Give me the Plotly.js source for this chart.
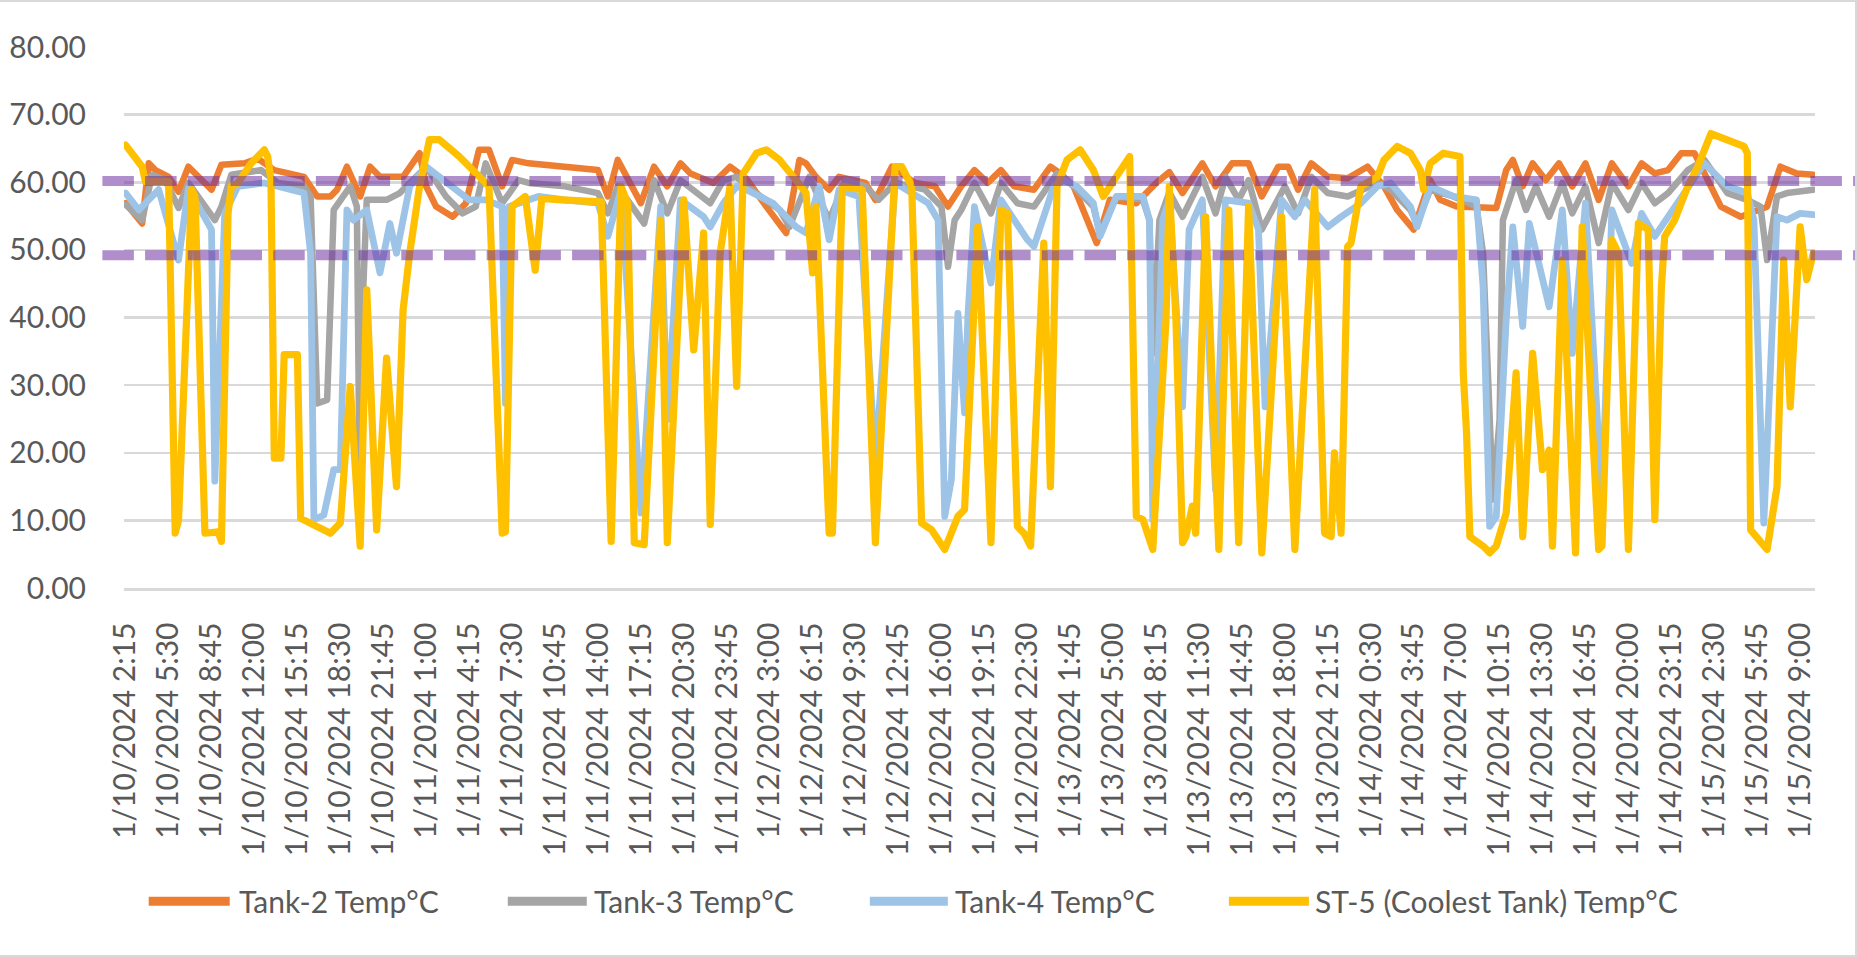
<!DOCTYPE html>
<html><head><meta charset="utf-8">
<script src="https://cdn.plot.ly/plotly-3.0.1.min.js"></script>
<style>
html,body{margin:0;padding:0;background:#fff;}
#wrap{position:relative;width:1857px;height:957px;overflow:hidden;}
#chart{position:absolute;left:0;top:0;width:1857px;height:957px;}
#frame{position:absolute;left:0;top:0;width:1857px;height:957px;box-sizing:border-box;border-top:2px solid #d9d9d9;border-right:2px solid #d9d9d9;border-bottom:2px solid #d9d9d9;pointer-events:none;}
.scatterlayer .js-line{stroke-linejoin:round;stroke-linecap:round;}
</style></head><body>
<div id="wrap"><div id="chart"></div><div id="frame"></div></div>
<script>
// x = 15-minute step since 1/10/2024 2:15 ; y = temperature °C
const seriesNames = ["Tank-2 Temp°C", "Tank-3 Temp°C", "Tank-4 Temp°C", "ST-5 (Coolest Tank) Temp°C"];
const seriesColors = ["#ED7D31", "#A5A5A5", "#9DC3E6", "#FFC000"];

const tickLabels = ["1/10/2024 2:15","1/10/2024 5:30","1/10/2024 8:45","1/10/2024 12:00","1/10/2024 15:15","1/10/2024 18:30","1/10/2024 21:45","1/11/2024 1:00","1/11/2024 4:15","1/11/2024 7:30","1/11/2024 10:45","1/11/2024 14:00","1/11/2024 17:15","1/11/2024 20:30","1/11/2024 23:45","1/12/2024 3:00","1/12/2024 6:15","1/12/2024 9:30","1/12/2024 12:45","1/12/2024 16:00","1/12/2024 19:15","1/12/2024 22:30","1/13/2024 1:45","1/13/2024 5:00","1/13/2024 8:15","1/13/2024 11:30","1/13/2024 14:45","1/13/2024 18:00","1/13/2024 21:15","1/14/2024 0:30","1/14/2024 3:45","1/14/2024 7:00","1/14/2024 10:15","1/14/2024 13:30","1/14/2024 16:45","1/14/2024 20:00","1/14/2024 23:15","1/15/2024 2:30","1/15/2024 5:45","1/15/2024 9:00"];
const tickEvery = 13;
const stepCount = 512;

const refLines = [60.2, 49.2];

const tank2 = [[0,56.9],[5,53.9],[7,62.8],[9,61.8],[13,60.8],[16,58.6],[19,62.3],[23,60.3],[26,58.9],[29,62.6],[36,62.8],[40,63.5],[45,61.8],[54,60.8],[58,57.9],[62,57.9],[64,58.9],[67,62.3],[71,57.9],[74,62.3],[77,60.8],[84,60.8],[89,64.3],[91,59.4],[94,56.4],[99,54.9],[103,56.9],[107,64.8],[110,64.8],[114,59.4],[117,63.3],[122,62.8],[133,62.3],[143,61.8],[146,57.9],[149,63.3],[156,56.9],[160,62.3],[164,59.4],[168,62.8],[171,61.3],[178,59.9],[183,62.3],[188,60.5],[194,56.4],[200,52.5],[204,63.3],[206,62.8],[209,60.8],[213,58.9],[216,60.8],[224,59.9],[227,57.4],[232,62.3],[239,59.9],[245,59.4],[249,56.4],[253,59.4],[257,61.8],[261,59.9],[265,61.8],[269,59.4],[275,58.9],[280,62.3],[283,61.3],[287,59.4],[294,51.0],[298,57.4],[306,56.9],[312,59.9],[316,61.5],[320,58.4],[326,62.8],[330,59.4],[335,62.8],[340,62.8],[344,57.9],[349,62.3],[352,62.3],[355,58.9],[359,62.8],[364,60.8],[370,60.6],[376,62.3],[381,59.4],[385,55.9],[390,53.0],[395,60.3],[398,57.4],[403,56.4],[415,56.2],[418,61.8],[420,63.3],[423,59.4],[426,62.8],[430,60.3],[434,62.8],[438,59.4],[442,62.8],[446,57.4],[450,62.8],[455,59.4],[459,62.8],[463,61.3],[467,61.8],[471,64.3],[475,64.3],[478,61.3],[483,56.4],[489,54.9],[497,56.4],[501,62.3],[506,61.3],[511,61.1]];

const tank3 = [[0,56.7],[5,54.4],[8,61.1],[12,60.3],[16,56.2],[19,59.9],[27,54.4],[29,56.4],[32,61.1],[41,61.8],[46,59.9],[54,59.4],[56,57.9],[58,27.3],[61,27.8],[62,39.7],[63,55.9],[68,59.4],[70,56.4],[71,8.0],[72,45.0],[73,57.4],[79,57.4],[83,58.4],[89,61.3],[91,62.3],[97,57.9],[102,55.4],[106,56.4],[109,62.8],[114,56.9],[119,60.3],[122,59.9],[133,59.4],[143,58.4],[146,55.4],[149,59.4],[157,53.9],[160,60.3],[164,55.4],[168,60.3],[177,56.9],[181,60.3],[185,60.8],[188,59.4],[198,55.9],[201,53.4],[207,60.8],[213,54.4],[218,60.3],[224,59.4],[228,57.4],[233,59.9],[242,58.9],[247,56.4],[249,47.5],[251,54.4],[253,55.9],[257,59.9],[262,55.4],[265,59.9],[270,56.9],[275,56.4],[282,61.3],[286,59.9],[293,56.4],[295,52.5],[300,57.9],[308,57.4],[310,54.4],[311,34.7],[313,54.4],[316,58.5],[320,54.9],[326,60.8],[330,55.4],[333,60.8],[337,57.4],[340,60.3],[344,53.0],[351,59.4],[355,55.4],[359,60.8],[364,58.4],[370,57.9],[374,58.9],[379,59.9],[383,58.9],[389,55.9],[391,53.9],[395,58.9],[402,57.9],[409,56.4],[411,49.5],[414,13.1],[416,24.9],[417,54.4],[421,60.3],[424,55.9],[427,59.4],[431,54.9],[435,59.9],[438,55.4],[442,59.4],[446,51.0],[450,59.9],[455,55.9],[459,59.9],[463,56.9],[467,58.4],[473,61.8],[478,63.3],[485,58.4],[491,57.4],[495,56.4],[497,48.5],[500,57.9],[503,58.4],[511,58.9]];

const tank4 = [[0,58.4],[4,55.9],[10,58.9],[16,48.5],[19,59.1],[26,53.0],[27,15.8],[30,55.4],[34,59.4],[42,59.9],[46,59.4],[54,58.4],[56,49.5],[57,10.1],[60,10.8],[63,17.5],[65,17.5],[67,55.9],[69,54.4],[73,55.9],[77,46.6],[80,53.9],[82,49.5],[86,59.4],[91,62.3],[104,57.4],[109,57.4],[114,56.4],[115,27.3],[116,56.4],[119,56.9],[125,57.9],[133,57.4],[143,56.9],[146,52.0],[150,58.9],[156,11.1],[162,56.4],[164,24.9],[168,57.4],[175,54.9],[177,53.4],[181,56.9],[185,59.4],[188,58.9],[196,56.9],[203,53.4],[206,52.5],[210,59.4],[213,51.5],[216,58.9],[222,57.9],[227,18.5],[233,59.9],[243,56.9],[246,54.4],[248,10.6],[250,16.0],[252,40.6],[254,25.9],[255,40.0],[257,56.4],[260,49.5],[262,45.1],[265,57.4],[269,54.4],[273,51.5],[275,50.5],[278,54.9],[281,59.4],[284,60.3],[288,59.4],[293,56.9],[295,52.0],[300,57.9],[308,57.9],[310,54.4],[311,10.1],[314,54.4],[316,57.4],[320,26.8],[322,53.0],[326,57.4],[330,14.5],[333,57.4],[340,56.9],[343,53.0],[345,26.8],[350,57.4],[354,54.9],[357,57.4],[364,53.4],[368,54.9],[374,56.9],[379,59.4],[383,59.9],[389,56.4],[391,53.4],[395,59.4],[402,57.9],[409,57.4],[411,44.6],[413,9.1],[415,10.6],[418,39.7],[420,53.4],[423,38.7],[425,53.9],[431,41.6],[435,55.9],[438,34.7],[442,56.9],[447,12.6],[450,55.9],[456,48.0],[459,55.4],[463,52.0],[467,54.9],[473,59.4],[478,62.8],[485,59.4],[491,58.4],[493,54.4],[496,9.6],[500,54.9],[503,54.4],[507,55.4],[511,55.2]];

const st5 = [[0,65.5],[5,62.3],[6,60.1],[13,60.1],[15,8.1],[16,10.0],[20,58.9],[21,57.9],[24,8.1],[28,8.3],[29,6.9],[31,55.4],[32,59.4],[34,59.9],[38,62.8],[42,64.8],[43,63.8],[44,60.3],[45,19.2],[47,19.2],[48,34.5],[52,34.5],[53,10.3],[56,9.6],[59,9.0],[62,8.1],[65,9.6],[68,29.8],[71,6.2],[73,44.1],[76,8.6],[79,34.0],[82,15.0],[84,41.1],[86,49.5],[89,59.4],[92,66.3],[95,66.3],[101,63.8],[106,61.3],[110,59.4],[114,8.1],[115,8.3],[117,56.4],[121,57.9],[124,47.0],[126,57.6],[132,57.4],[144,57.1],[147,6.9],[150,59.4],[152,56.9],[154,6.7],[157,6.4],[162,54.4],[164,6.7],[169,57.4],[172,35.2],[175,52.5],[177,9.4],[180,49.5],[183,59.4],[185,29.8],[187,61.3],[191,64.3],[194,64.8],[198,63.3],[203,60.3],[206,58.4],[208,46.6],[209,56.4],[213,8.1],[214,8.1],[217,59.4],[223,58.9],[227,6.7],[233,62.3],[235,62.3],[238,59.4],[241,9.6],[244,8.6],[248,5.7],[252,10.6],[254,11.6],[258,53.4],[262,6.7],[265,55.9],[267,55.4],[270,9.1],[272,8.1],[274,6.2],[278,51.0],[280,15.0],[282,59.4],[285,63.3],[289,64.8],[293,61.8],[296,57.9],[300,60.8],[304,63.8],[306,10.6],[308,10.1],[311,5.7],[313,22.4],[315,39.7],[316,59.4],[318,39.7],[320,6.7],[321,7.6],[323,12.1],[324,8.1],[327,54.9],[331,5.7],[334,55.9],[337,6.7],[340,56.4],[344,5.2],[350,54.9],[354,5.7],[360,58.9],[363,8.1],[365,7.6],[366,20.0],[368,8.1],[370,50.5],[371,51.0],[374,59.4],[379,60.8],[381,63.3],[385,65.3],[389,64.3],[392,61.8],[393,58.9],[395,62.8],[399,64.3],[404,63.8],[405,31.8],[406,22.9],[407,7.6],[411,6.2],[413,5.2],[415,6.2],[418,11.1],[421,31.8],[423,7.6],[426,34.7],[429,17.5],[431,20.4],[432,6.2],[435,48.5],[439,5.2],[441,53.4],[446,5.7],[447,6.2],[450,51.5],[452,49.5],[455,5.7],[458,53.9],[461,53.0],[463,10.1],[465,44.6],[466,52.0],[469,54.4],[473,59.4],[476,62.3],[480,67.2],[485,66.3],[490,65.3],[491,64.3],[492,8.6],[497,5.7],[500,15.0],[502,48.5],[504,26.8],[507,53.4],[509,45.6],[511,49.5]];

const allSeries = [tank2, tank3, tank4, st5];
const lineWidths = [6.5, 6.5, 6.8, 7.2];

// ---- layout geometry (pixels) ----
const W = 1857, H = 957;
const PL = 124.3, PR = 1815, PT = 46.6, PB = 588.3;
const px2x = p => (p - PL) / (PR - PL);
const py2y = p => (PB - p) / (PB - PT);
const FONT = 'Lato, "Open Sans", sans-serif';
const TXT = '#595959';

const traces = allSeries.map((s, k) => ({
  type: 'scatter', mode: 'lines', name: seriesNames[k],
  x: s.map(p => p[0]), y: s.map(p => p[1]),
  line: {color: seriesColors[k], width: lineWidths[k]},
  hoverinfo: 'skip'
}));

let dashArr = '';
for (let i = 0; i < 45; i++) dashArr += (i ? ',' : '') + '31.5px,11.2px';

const shapes = refLines.map(v => ({
  type: 'line', xref: 'paper', yref: 'y', x0: px2x(102.7), x1: px2x(1857), y0: v, y1: v,
  line: {color: 'rgba(112,48,160,0.55)', width: 10, dash: dashArr}, layer: 'above'
}));

const legendY = py2y(902);
const legendPos = [[149, 230, 237], [508, 587, 592], [870, 948, 953], [1229, 1309, 1313]];
const annotations = [];
legendPos.forEach((p, k) => {
  shapes.push({type: 'line', xref: 'paper', yref: 'paper', x0: px2x(p[0]), x1: px2x(p[1]), y0: legendY, y1: legendY,
    line: {color: seriesColors[k], width: 9}, layer: 'above'});
  annotations.push({xref: 'paper', yref: 'paper', x: px2x(p[2]), y: legendY, xanchor: 'left', yanchor: 'middle',
    text: seriesNames[k], showarrow: false, font: {family: FONT, size: 30, color: TXT}});
});

const layout = {
  width: W, height: H,
  margin: {l: PL, r: W - PR, t: PT, b: H - PB, pad: 0},
  paper_bgcolor: '#ffffff', plot_bgcolor: '#ffffff',
  font: {family: FONT, size: 30, color: TXT},
  showlegend: false,
  xaxis: {
    range: [-0.5, stepCount - 0.5], tickmode: 'array',
    tickvals: tickLabels.map((t, i) => i * tickEvery), ticktext: tickLabels,
    tickangle: -90, showgrid: false, zeroline: false,
    showline: true, linecolor: '#d9d9d9', linewidth: 2.5, ticks: '',
    ticklabelstandoff: 20, tickfont: {family: FONT, size: 30, color: TXT}
  },
  yaxis: {
    range: [0, 80], tick0: 0, dtick: 10, tickformat: '.2f',
    showgrid: true, gridcolor: '#d9d9d9', gridwidth: 2.5,
    zeroline: false, showline: false, ticks: '',
    ticklabelstandoff: 37, tickfont: {family: FONT, size: 30, color: TXT}
  },
  shapes: shapes, annotations: annotations
};

Plotly.newPlot('chart', traces, layout, {staticPlot: true, displayModeBar: false});
</script></body></html>
